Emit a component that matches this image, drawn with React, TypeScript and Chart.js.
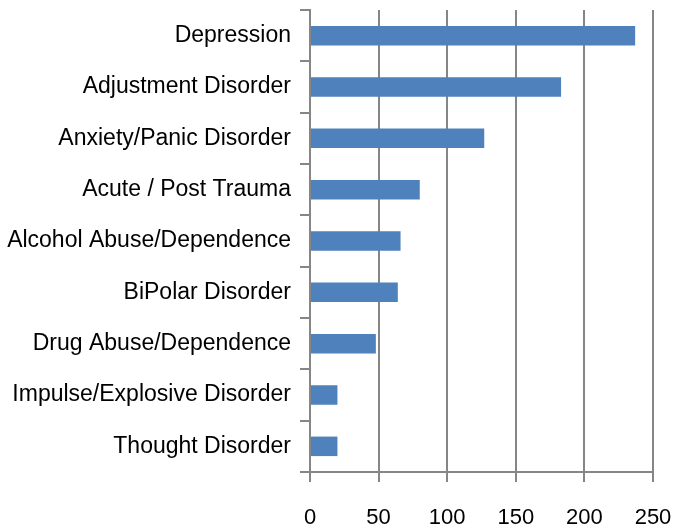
import React, { useEffect, useRef } from "react";
import { Chart, registerables } from "chart.js";

Chart.register(...registerables);

const categories = [
  "Depression",
  "Adjustment Disorder",
  "Anxiety/Panic Disorder",
  "Acute / Post Trauma",
  "Alcohol Abuse/Dependence",
  "BiPolar Disorder",
  "Drug Abuse/Dependence",
  "Impulse/Explosive Disorder",
  "Thought Disorder",
];
const counts = [237, 183, 127, 80, 66, 64, 48, 20, 20];
const xMin = 0;
const xMax = 250;
const xStep = 50;

const FONT = "'Liberation Sans', Arial, sans-serif";
const GRID = "#868686";

export default function App() {
  const ref = useRef<HTMLCanvasElement | null>(null);
  useEffect(() => {
    if (!ref.current) return;
    const chart = new Chart(ref.current, {
      type: "bar",
      data: {
        labels: categories,
        datasets: [
          {
            data: counts,
            backgroundColor: "#4F81BD",
            borderWidth: 0,
            categoryPercentage: 1,
            barPercentage: 0.38,
          },
        ],
      },
      options: {
        indexAxis: "y",
        animation: false,
        responsive: true,
        maintainAspectRatio: false,
        layout: { padding: { top: 10, right: 32, bottom: 0, left: 0 } },
        plugins: { legend: { display: false }, tooltip: { enabled: false } },
        scales: {
          x: {
            min: xMin,
            max: xMax,
            ticks: {
              stepSize: xStep,
              color: "#000",
              font: { family: FONT, size: 22 },
              padding: 23,
              maxRotation: 0,
            },
            grid: {
              color: GRID,
              lineWidth: 2,
              tickLength: 10,
              drawOnChartArea: true,
            },
            border: { display: true, color: GRID, width: 2 },
            afterFit: (s: any) => {
              s.height = 57;
              s.paddingLeft = 0;
              s.paddingRight = 0;
            },
          },
          y: {
            ticks: {
              color: "#000",
              font: { family: FONT, size: 23 },
              padding: 9,
              autoSkip: false,
            },
            grid: {
              offset: true,
              color: GRID,
              lineWidth: 2,
              tickLength: 10,
              drawOnChartArea: false,
            },
            border: { display: true, color: GRID, width: 2 },
            afterFit: (s: any) => {
              s.width = 310;
              s.paddingTop = 0;
              s.paddingBottom = 0;
            },
          },
        },
      },
    });
    return () => chart.destroy();
  }, []);
  return (
    <div style={{ position: "fixed", left: 0, top: 0, width: 685, height: 529, background: "#fff" }}>
      <canvas ref={ref} />
    </div>
  );
}
